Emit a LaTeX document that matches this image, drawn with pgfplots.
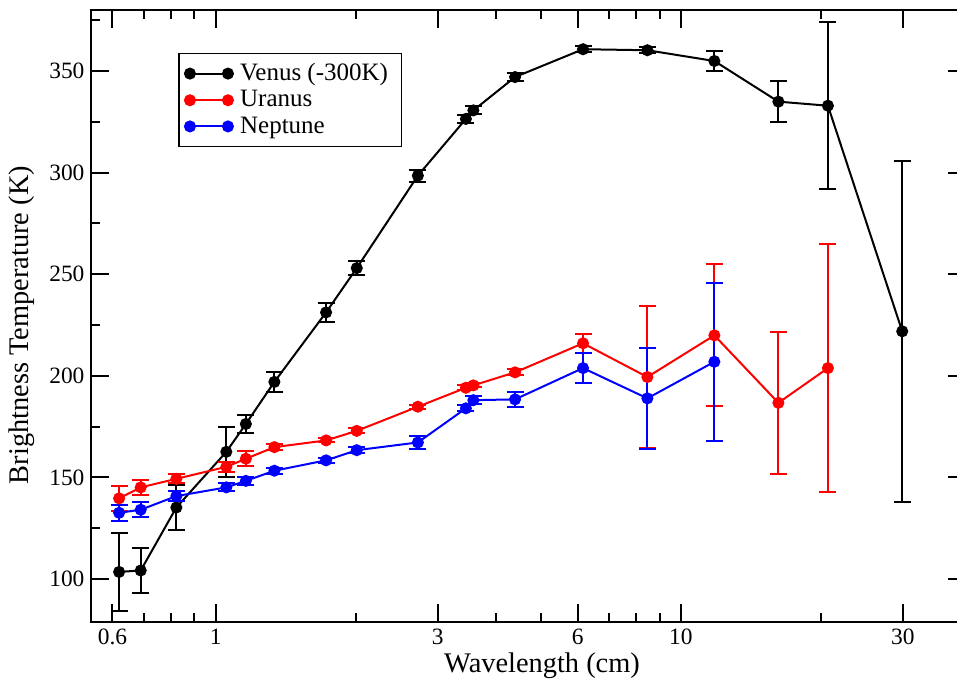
\documentclass[border=0pt]{standalone}
\usepackage{fontspec}
\setmainfont{Liberation Serif}
\usepackage{pgfplots}
\pgfplotsset{compat=1.18}
\usepackage{pgfplotstable}

\pgfplotstableread{
x y e
0.620 103.5 19.0
0.690 104.2 11.0
0.823 135.2 11.3
1.054 162.6 12.3
1.161 176.3 4.5
1.337 197.0 4.8
1.727 231.2 4.7
2.010 253.0 3.6
2.720 298.5 2.9
3.450 326.4 2.0
3.580 330.6 2.0
4.400 347.0 2.0
6.160 360.7 1.5
8.470 360.2 1.5
11.80 354.9 5.0
16.20 334.9 10.0
20.70 332.9 41.0
29.90 221.9 84.0
}\venus

\pgfplotstableread{
x y e
0.620 139.7 6.0
0.690 145.1 3.6
0.823 149.3 2.2
1.054 155.2 2.3
1.161 159.2 3.6
1.337 164.9 1.5
1.727 168.2 1.0
2.010 172.9 1.2
2.720 184.8 1.0
3.450 194.1 1.2
3.580 195.3 1.0
4.400 201.7 1.5
6.160 216.0 4.8
8.470 199.4 35.0
11.80 219.9 35.0
16.20 186.7 35.0
20.70 203.8 61.0
}\uranus

\pgfplotstableread{
x y e
0.620 132.6 4.0
0.690 134.1 3.6
0.823 140.8 2.5
1.054 145.1 2.0
1.161 148.3 2.0
1.337 153.3 1.5
1.727 158.4 1.2
2.010 163.4 1.5
2.720 167.2 3.3
3.450 184.0 1.5
3.580 188.0 2.0
4.400 188.4 3.7
6.160 203.8 7.3
8.470 188.9 24.8
11.80 206.9 39.0
}\neptune

\definecolor{myred}{RGB}{255,0,0}
\definecolor{myblue}{RGB}{0,0,255}

\begin{document}
\begin{tikzpicture}
\begin{axis}[
  xmode=log,
  scale only axis,
  width=437.25pt, height=305.85pt,
  xmin=0.5408, xmax=41.0, ymin=79, ymax=380,
  xtick={0.6,1,3,6,10,30}, xticklabels={0.6,1,3,6,10,30},
  minor xtick={0.7,0.8,0.9,2,4,5,7,8,9,20},
  ytick={100,150,200,250,300,350},
  yticklabels={100,150,200,250,300,350},
  minor ytick={125,175,225,275,325,375},
  tick align=inside,
  major tick length=8.85pt, minor tick length=4.5pt,
  every tick/.style={black, line width=1pt},
  axis line style={line width=1pt},
  tick label style={font=\fontsize{11.7}{14}\selectfont},
  /pgf/number format/assume math mode=true,
  xlabel={Wavelength (cm)},
  ylabel={Brightness Temperature (K)},
  label style={font=\fontsize{14.2}{16}\selectfont},
  xlabel style={at={(axis description cs:0.5152,-0.0724)}, anchor=center},
  ylabel style={at={(axis description cs:-0.0795,0.485)}, anchor=center},
  legend style={at={(axis description cs:0.0993,0.930)}, anchor=north west,
    draw=black, line width=0.6pt, font=\fontsize{12.5}{14}\selectfont,
    inner xsep=3pt, inner ysep=3pt, row sep=-0.6pt,
    nodes={inner xsep=3.6pt}},
  legend cell align=left,
  legend image code/.code={\draw[#1] plot coordinates {(0pt,0pt) (19pt,0pt)};},
  error bars/y dir=both,
  error bars/y explicit,
  error bars/error mark=|,
  error bars/error mark options={line width=1pt, mark size=4.25pt, solid},
  error bars/error bar style={line width=1pt, solid},
]
\addplot[black, line width=1pt, mark=*, mark size=2.5pt, mark options={solid}]
  table[x=x, y=y, y error=e] {\venus};
\addlegendentry{Venus (-300K)}
\addplot[myred, line width=1pt, mark=*, mark size=2.5pt, mark options={solid}]
  table[x=x, y=y, y error=e] {\uranus};
\addlegendentry{Uranus}
\addplot[myblue, line width=1pt, mark=*, mark size=2.5pt, mark options={solid}]
  table[x=x, y=y, y error=e] {\neptune};
\addlegendentry{Neptune}
\end{axis}
\pgfresetboundingbox
\path[use as bounding box] (-45.75pt,-29.65pt) rectangle (432.75pt,310.85pt);
\end{tikzpicture}
\end{document}
